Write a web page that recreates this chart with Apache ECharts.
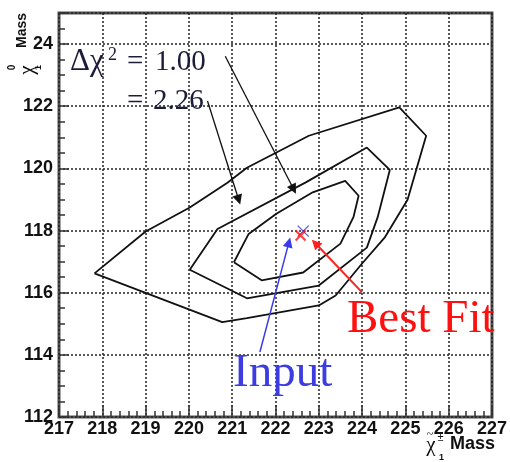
<!DOCTYPE html>
<html>
<head>
<meta charset="utf-8">
<script src="https://cdn.jsdelivr.net/npm/echarts@6/dist/echarts.min.js"></script>
<style>
  html, body { margin: 0; padding: 0; background: #fff; }
  #chart { width: 510px; height: 462px; }
</style>
</head>
<body>
<div id="chart"></div>
<script>
// Axis ranges (chargino mass on x, neutralino mass on y), GeV
const xRange = [217, 227];
const yRange = [112, 125];
const xStep = 1;
const yStep = 2;

// Δχ² contours, each a closed polygon of [chargino mass, neutralino mass]
const contourOuter = [
  [217.82, 116.62], [219.00, 117.97], [220.02, 118.74], [220.89, 119.54],
  [221.34, 120.02], [222.77, 121.05], [224.86, 121.96], [225.48, 121.05],
  [225.05, 118.99], [224.52, 117.77], [224.00, 116.94], [223.39, 115.91],
  [223.00, 115.59], [221.34, 115.18], [220.77, 115.05], [217.82, 116.62]
];
const contourMiddle = [
  [220.02, 116.74], [220.66, 118.05], [222.70, 119.55], [224.11, 120.67],
  [224.64, 119.95], [224.36, 118.43], [224.11, 117.45], [223.00, 116.23],
  [221.34, 115.82], [220.02, 116.74]
];
const contourInner = [
  [221.04, 116.98], [221.38, 117.89], [222.02, 118.54], [222.86, 119.23],
  [223.61, 119.60], [223.92, 119.12], [223.80, 118.43], [223.50, 117.58],
  [222.64, 116.65], [221.68, 116.40], [221.04, 116.98]
];

// Fitted and generated mass points
const bestFit = [222.58, 117.84];
const inputPoint = [222.64, 117.98];

// Annotation arrows: [tail, head] in data coordinates
const arrowsLevels = [
  [[220.84, 123.61], [222.42, 119.33]],
  [[220.43, 122.17], [221.15, 118.99]]
];
const arrowBestFit = [[224.00, 116.01], [222.92, 117.59]];
const arrowInput = [[221.64, 114.09], [222.31, 117.62]];

const crossPath = 'path://M0,0L10,10M10,0L0,10';
const tickFont = { fontFamily: 'Liberation Sans', fontWeight: 'bold', fontSize: 18, color: '#111' };
const gridDots = { color: '#222', type: [2, 2], width: 1.5 };
const levelInk = '#1c1c38';

function contourSeries(data) {
  return {
    type: 'line', data: data, showSymbol: false, silent: true,
    lineStyle: { color: '#111', width: 1.8 }, z: 3
  };
}
function arrowSeries(pairs, color, width) {
  return {
    type: 'lines', coordinateSystem: 'cartesian2d', silent: true, z: 5,
    symbol: ['none', 'triangle'], symbolSize: 10,
    lineStyle: { color: color, width: width, opacity: 1 },
    data: pairs.map(p => ({ coords: p }))
  };
}
function label(x, y, text, font, fill, extra) {
  return Object.assign({
    type: 'text', z: 51, x: x, y: y,
    style: { text: text, font: font, fill: fill, align: 'left', verticalAlign: 'middle' }
  }, extra || {});
}

const chart = echarts.init(document.getElementById('chart'));
chart.setOption({
  animation: false,
  backgroundColor: '#fff',
  grid: {
    left: 59, right: 12, top: 13, bottom: 45,
    show: true, borderColor: '#505050', borderWidth: 3, backgroundColor: '#fff'
  },
  xAxis: {
    type: 'value', min: xRange[0], max: xRange[1], interval: xStep,
    axisLine: { show: false },
    axisTick: { inside: true, length: 12, lineStyle: { color: '#333', width: 1.5 } },
    minorTick: { show: true, splitNumber: 5, length: 6, lineStyle: { color: '#333', width: 1.5 } },
    splitLine: { show: true, lineStyle: gridDots },
    axisLabel: Object.assign({ margin: 3 }, tickFont)
  },
  yAxis: [{
    type: 'value', min: yRange[0], max: yRange[1], interval: yStep,
    axisLine: { show: false },
    axisTick: { inside: true, length: 10, lineStyle: { color: '#333', width: 1.5 } },
    splitLine: { show: true, lineStyle: gridDots },
    axisLabel: Object.assign({
      margin: 6,
      formatter: v => (v % yStep === 0 ? String(v) : '')
    }, tickFont)
  }, {
    type: 'value', min: yRange[0], max: yRange[1], interval: yStep / 4,
    position: 'left',
    axisLine: { show: false },
    axisTick: { inside: true, length: 6, lineStyle: { color: '#333', width: 1.5 } },
    splitLine: { show: false },
    axisLabel: { show: false }
  }],
  series: [
    contourSeries(contourOuter),
    contourSeries(contourMiddle),
    contourSeries(contourInner),
    arrowSeries(arrowsLevels, '#111', 1.3),
    arrowSeries([arrowBestFit], '#ff2020', 2),
    arrowSeries([arrowInput], '#3c3ce6', 1.5),
    {
      type: 'scatter', data: [inputPoint], symbol: crossPath, symbolSize: 11, z: 6,
      itemStyle: { color: 'rgba(0,0,0,0)', borderColor: '#3030e0', borderWidth: 1.3 }
    },
    {
      type: 'scatter', data: [bestFit], symbol: crossPath, symbolSize: 10, z: 7,
      itemStyle: { color: 'rgba(0,0,0,0)', borderColor: '#ff1010', borderWidth: 2 }
    }
  ],
  graphic: [
    // y-axis title plate
    { type: 'rect', z: 50, shape: { x: 14, y: 11, width: 19, height: 41 }, style: { fill: '#fff' } },
    { type: 'text', z: 51, x: 22.5, y: 30.5, rotation: Math.PI / 2,
      style: { text: 'Mass', font: 'bold 14px "Liberation Sans"', fill: '#111', align: 'center', verticalAlign: 'middle' } },
    { type: 'text', z: 51, x: 27, y: 70, rotation: Math.PI / 2,
      style: { text: 'χ', font: '21px "Liberation Serif"', fill: '#111', align: 'center', verticalAlign: 'middle' } },
    { type: 'text', z: 51, x: 12.5, y: 67.5, rotation: Math.PI / 2,
      style: { text: '0', font: 'bold 10px "Liberation Sans"', fill: '#111', align: 'center', verticalAlign: 'middle' } },
    { type: 'text', z: 51, x: 39, y: 67.5, rotation: Math.PI / 2,
      style: { text: '1', font: 'bold 9px "Liberation Sans"', fill: '#111', align: 'center', verticalAlign: 'middle' } },

    // x-axis title
    { type: 'text', z: 51, x: 431, y: 445,
      style: { text: 'χ', font: '21px "Liberation Serif"', fill: '#111', align: 'center', verticalAlign: 'middle' } },
    { type: 'text', z: 51, x: 430, y: 435,
      style: { text: '~', font: '12px "Liberation Serif"', fill: '#111', align: 'center', verticalAlign: 'middle' } },
    { type: 'text', z: 51, x: 440.5, y: 438,
      style: { text: '±', font: '11px "Liberation Sans"', fill: '#111', align: 'center', verticalAlign: 'middle' } },
    { type: 'text', z: 51, x: 441.5, y: 457.5,
      style: { text: '1', font: 'bold 9px "Liberation Sans"', fill: '#111', align: 'center', verticalAlign: 'middle' } },
    label(450, 444, 'Mass', 'bold 18px "Liberation Sans"', '#111'),

    // contour level labels
    label(70, 62, 'Δχ', '31px "Liberation Serif"', levelInk),
    label(108, 55, '2', '18px "Liberation Serif"', levelInk),
    label(127, 62, '=', '29px "Liberation Serif"', levelInk),
    label(155, 62, '1.00', '29px "Liberation Serif"', levelInk),
    label(127, 101, '=', '29px "Liberation Serif"', levelInk),
    label(153, 101, '2.26', '29px "Liberation Serif"', levelInk),

    // point labels
    label(347, 320, 'Best Fit', '47px "Liberation Serif"', '#ff1010'),
    label(233, 374, 'Input', '47px "Liberation Serif"', '#3c3ce0')
  ]
});
</script>
</body>
</html>
